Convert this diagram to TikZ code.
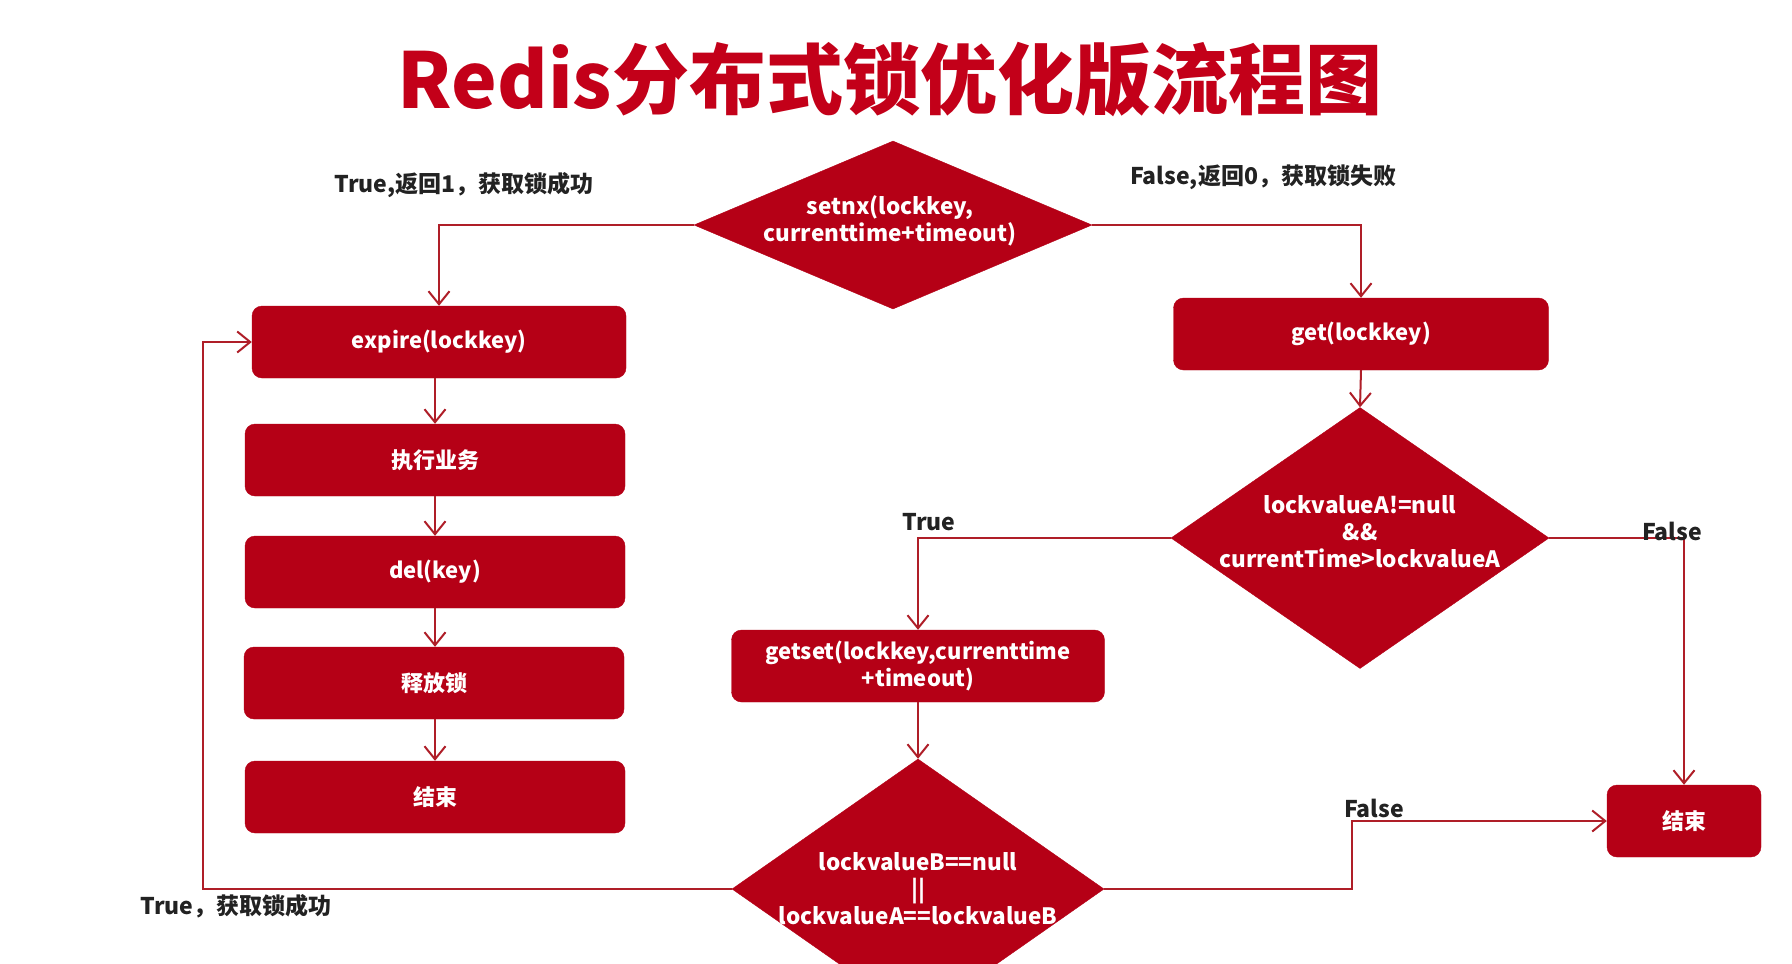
\documentclass[tikz,border=0pt]{standalone}
\usepackage{fontspec}
\usepackage{graphicx}
\setmainfont{Noto Sans CJK SC}
\usetikzlibrary{shapes.geometric,arrows.meta,calc}
\definecolor{redfill}{RGB}{181,0,22}
\definecolor{redline}{RGB}{175,30,40}
\definecolor{titlered}{RGB}{195,0,25}
\definecolor{labelc}{RGB}{34,34,34}
\tikzset{
 box/.style={draw=redfill, fill=redfill, rounded corners=10pt, text=white, font=\bfseries\fontsize{22}{27}\selectfont, align=center, inner sep=0pt},
 dia/.style={diamond, draw=redfill, fill=redfill, inner sep=0pt},
 diatext/.style={text=white, font=\bfseries\fontsize{22.5}{27}\selectfont, align=center, inner sep=0pt},
 lbl/.style={text=labelc, font=\bfseries\fontsize{23}{27}\selectfont, inner sep=0pt},
 arr/.style={draw=redline, line width=2pt, -{Straight Barb[length=13pt,width=21pt]}},
}
\begin{document}
\begin{tikzpicture}[x=1pt,y=-1pt]
\clip (0,0) rectangle (1792,964);
\fill[white] (0,0) rectangle (1792,964);
\node[text=titlered, font=\bfseries\fontsize{77}{80}\selectfont, inner sep=0pt] (title) at (890,80) {Redis分布式锁优化版流程图};

% left column
\node[box, minimum width=374pt, minimum height=72pt] (expire) at (439,342) {expire(lockkey)};
\node[box, minimum width=380pt, minimum height=72pt] (exec) at (435,460) {执行业务};
\node[box, minimum width=380pt, minimum height=72pt] (del) at (435,572) {del(key)};
\node[box, minimum width=380pt, minimum height=72pt] (rel) at (434,683) {释放锁};
\node[box, minimum width=380pt, minimum height=72pt] (end1) at (435,797) {结束};

% decisions
\node[dia, minimum width=398pt, minimum height=168pt] (d1) at (893,225) {};
\node[diatext] (d1t) at (890,221) {setnx(lockkey,\\currenttime+timeout)};
\node[dia, minimum width=378pt, minimum height=261pt] (d2) at (1360,538) {};
\node[diatext] (d2t) at (1360,532) {lockvalueA!=null\\\&\&\\currentTime>lockvalueA};
\node[dia, minimum width=372pt, minimum height=260pt] (d3) at (918,889) {};
\node[diatext] (d3t) at (918,889) {lockvalueB==null\\||\\lockvalueA==lockvalueB};

% right side
\node[box, minimum width=375pt, minimum height=72pt] (get) at (1361,334) {get(lockkey)};
\node[box, minimum width=373pt, minimum height=72pt] (getset) at (918,666) {getset(lockkey,currenttime\\+timeout)};
\node[box, minimum width=154pt, minimum height=72pt] (end2) at (1684,821) {结束};

\coordinate (c1) at (1352,821);
\coordinate (c2) at (203,342);

% connectors
\draw[arr] (d1.west) -| (expire.north);
\draw[arr] (d1.east) -| (get.north);
\draw[arr] (expire.south -| exec.north) -- (exec.north);
\draw[arr] (exec.south) -- (del.north);
\draw[arr] (del.south) -- (rel.north -| del.south);
\draw[arr] (rel.south -| end1.north) -- (end1.north);
\draw[arr] (get.south) -- (d2.north);
\draw[arr] (d2.west) -| (getset.north);
\draw[arr] (d2.east) -| (end2.north);
\draw[arr] (getset.south) -- (d3.north);
\draw[arr] (d3.east) -| (c1) -- (end2.west);
\draw[arr] (d3.west) -| (c2) -- (expire.west);

% labels
\node[lbl] (l1) at (464,185) {True,返回1，获取锁成功};
\node[lbl] (l2) at (1263,177) {False,返回0，获取锁失败};
\node[lbl] (l3) at (929,522) {True};
\node[lbl] (l4) at (1672,531) {False};
\node[lbl] (l5) at (1374,808) {False};
\node[lbl] (l6) at (236,906) {True，获取锁成功};
\end{tikzpicture}
\end{document}
